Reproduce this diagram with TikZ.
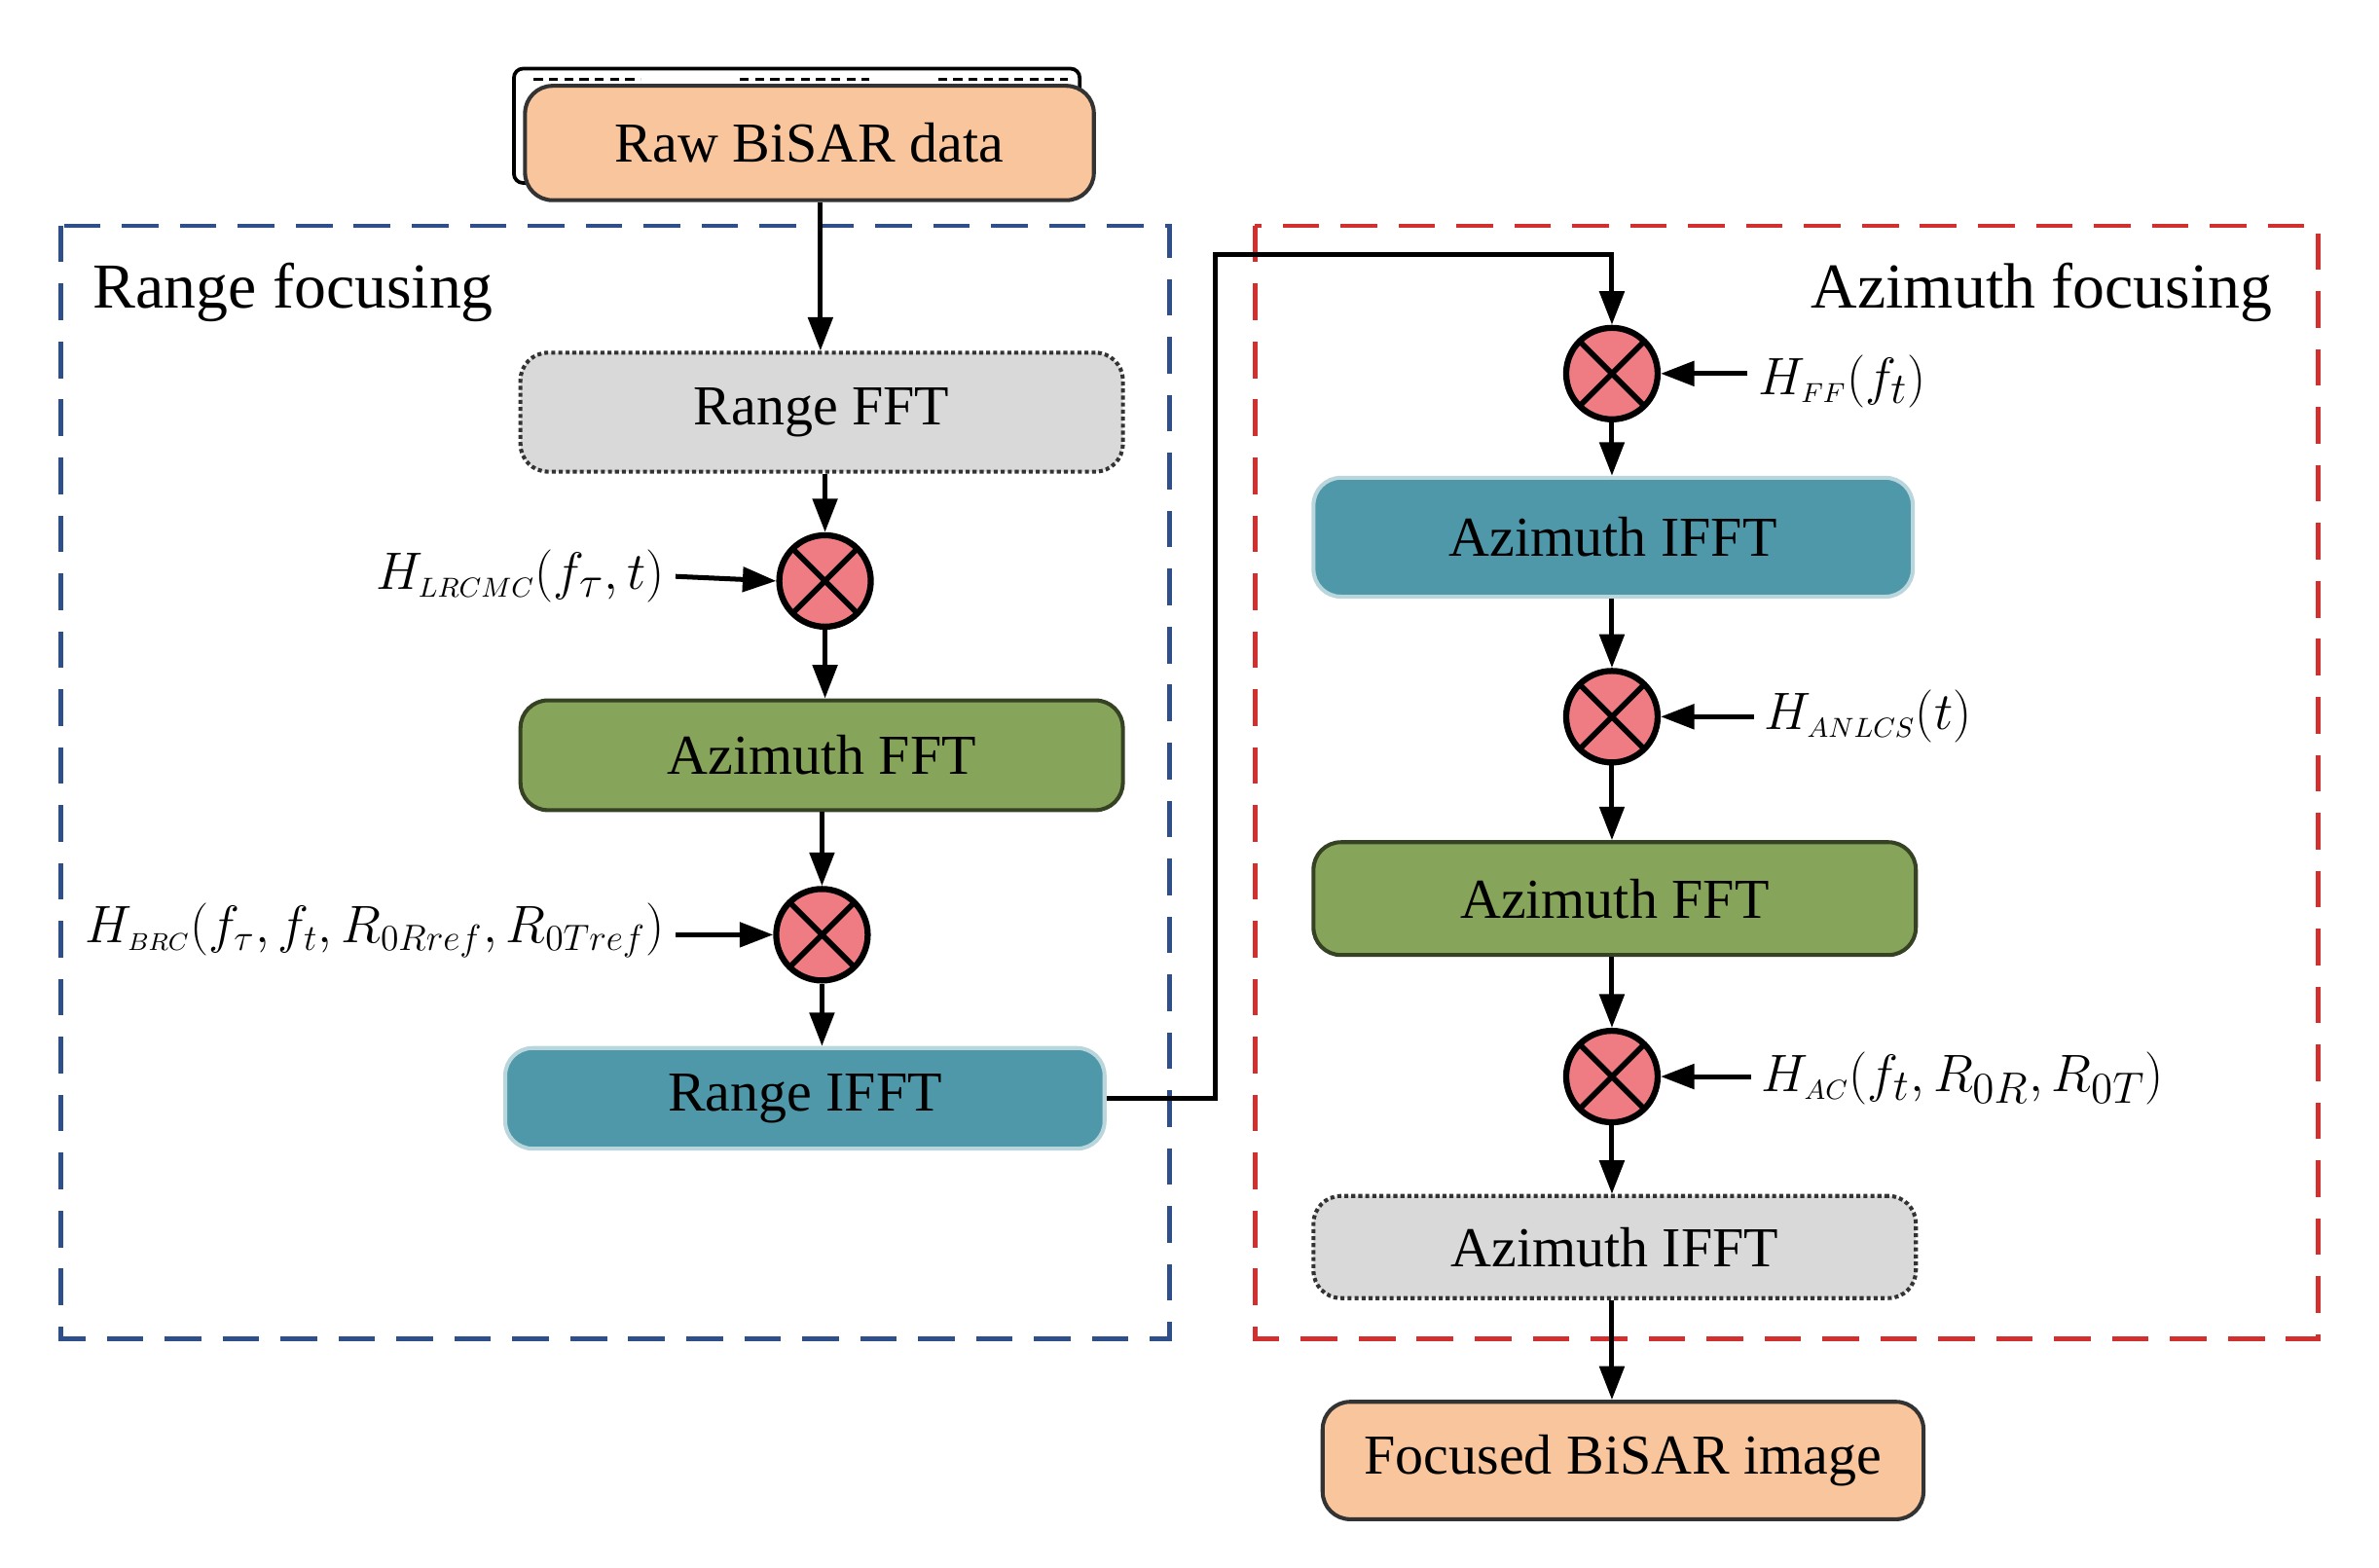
\documentclass[tikz,border=0pt]{standalone}
\usepackage{fontspec}
\setmainfont{Liberation Serif}
\usetikzlibrary{arrows.meta,calc}
\definecolor{orng}{HTML}{F9C59C}
\definecolor{gry}{HTML}{D9D9D9}
\definecolor{grn}{HTML}{86A55A}
\definecolor{blu}{HTML}{4F98A9}
\definecolor{pnk}{HTML}{EF7C82}
\definecolor{dblue}{HTML}{2E4F8A}
\definecolor{dred}{HTML}{D2302F}
\begin{document}
\begin{tikzpicture}[x=0.5pt,y=-0.5pt,
  box/.style={draw=black!80,line width=1.3pt,rounded corners=9pt,anchor=north west,inner sep=0pt,font=\fontsize{18.5}{22}\selectfont},
  mult/.style={circle,draw=black,line width=2pt,fill=pnk,minimum size=30pt,inner sep=0pt,
    path picture={\draw[line width=1.8pt] (path picture bounding box.north west)--(path picture bounding box.south east) (path picture bounding box.north east)--(path picture bounding box.south west);}},
  arr/.style={-{Triangle[length=11pt,width=8pt]},line width=1.6pt},
  lab/.style={font=\fontsize{19}{22}\selectfont},
  frame/.style={dashed,line width=1.4pt,dash pattern=on 12pt off 7pt}]
\useasboundingbox (0,0) rectangle (1560,1028);
% raw data (stacked)
\draw[line width=1.2pt,fill=white,rounded corners=3pt] (337,45) rectangle (708,120);
\draw[densely dashed,line width=0.8pt] (350,52)--(420,52) (485,52)--(570,52) (615,52)--(700,52);
\node[box,fill=orng,minimum width=186.5pt,minimum height=37.5pt] (raw) at (343,55) {Raw BiSAR data};
% frames
\draw[frame,dblue] (40,148) rectangle (767,878);
\draw[frame,dred] (823,148) rectangle (1520,878);
\node[anchor=west,font=\fontsize{21}{24}\selectfont] (rf) at (54,192) {Range focusing};
\node[anchor=east,font=\fontsize{21}{24}\selectfont] (af) at (1497,192) {Azimuth focusing};
% left chain
\node[box,fill=gry,draw=black!80,densely dotted,minimum width=197.5pt,minimum height=39pt] (rfft) at (340,230) {Range FFT};
\node[mult] (m1) at (541,381) {};
\node[box,fill=grn,draw=black!60!grn,minimum width=197.5pt,minimum height=36pt] (afft) at (340,458) {Azimuth FFT};
\node[mult] (m2) at (539,613) {};
\node[box,fill=blu,draw=blu!40,minimum width=196.5pt,minimum height=33pt] (rifft) at (330,686) {Range IFFT};
% right chain
\node[mult] (m3) at (1057,245) {};
\node[box,fill=blu,draw=blu!40,minimum width=196.5pt,minimum height=39pt] (aifft) at (860,312) {Azimuth IFFT};
\node[mult] (m4) at (1057,470) {};
\node[box,fill=grn,draw=black!60!grn,minimum width=197.5pt,minimum height=37pt] (afft2) at (860,551) {Azimuth FFT};
\node[mult] (m5) at (1057,706) {};
\node[box,fill=gry,draw=black!80,densely dotted,minimum width=197.5pt,minimum height=33.5pt] (aifft2) at (860,783) {Azimuth IFFT};
\node[box,fill=orng,minimum width=197pt,minimum height=38.5pt] (foc) at (866,918) {Focused BiSAR image};
% labels
\node[lab,anchor=east] (l1) at (443,378) {$H_{\scriptscriptstyle LRCMC}(f_\tau,t)$};
\node[lab,anchor=east,font=\fontsize{17}{20}\selectfont] (l2) at (443,610) {$H_{\scriptscriptstyle BRC}\big(f_\tau,f_t,R_{0Rref},R_{0Tref}\big)$};
\node[lab,anchor=west] (l3) at (1146,250) {$H_{\scriptscriptstyle FF}\big(f_t\big)$};
\node[lab,anchor=west] (l4) at (1150,470) {$H_{\scriptscriptstyle ANLCS}\big(t\big)$};
\node[lab,anchor=west] (l5) at (1148,707) {$H_{\scriptscriptstyle AC}\big(f_t,R_{0R},R_{0T}\big)$};
% arrows
\draw[arr] (raw.south -| 538,0) -- (rfft.north -| 538,0);
\draw[arr] (rfft.south -| m1) -- (m1);
\draw[arr] (m1) -- (afft.north -| m1);
\draw[arr] (afft.south -| m2) -- (m2);
\draw[arr] (m2) -- (rifft.north -| m2);
\draw[arr] (l1.east) -- (m1.west);
\draw[arr] (l2.east |- m2) -- (m2.west);
\draw[arr] (rifft.east) -- (797,718 |- rifft.east) -- (797,167) -- (1057,167) -- (m3.north);
\draw[arr] (m3) -- (aifft.north -| m3);
\draw[arr] (aifft.south -| m4) -- (m4);
\draw[arr] (m4) -- (afft2.north -| m4);
\draw[arr] (afft2.south -| m5) -- (m5);
\draw[arr] (m5) -- (aifft2.north -| m5);
\draw[arr] (aifft2.south -| m5) -- (foc.north -| m5);
\draw[arr] (l3.west |- m3) -- (m3.east);
\draw[arr] (l4.west) -- (m4.east);
\draw[arr] (l5.west |- m5) -- (m5.east);
\end{tikzpicture}
\end{document}
